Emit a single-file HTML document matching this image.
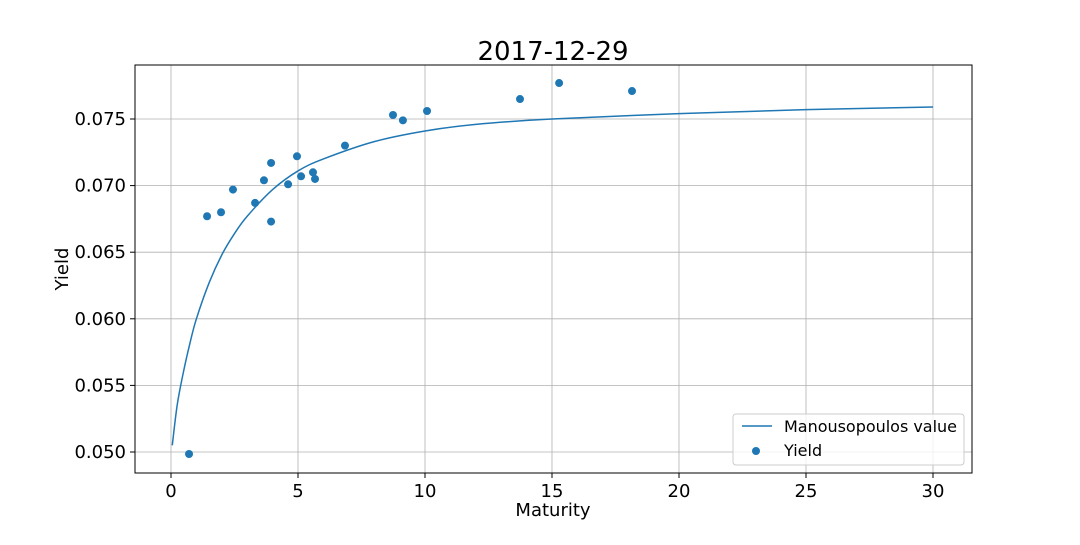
<!DOCTYPE html>
<html><head><meta charset="utf-8"><style>
body{margin:0;background:#fff;}
svg text{font-family:"DejaVu Sans","Liberation Sans",sans-serif;}
</style></head><body>
<svg id="chart" width="1080" height="540" xmlns="http://www.w3.org/2000/svg">
<rect width="1080" height="540" fill="#fff"/>
<text x="553" y="60" font-size="26" text-anchor="middle">2017-12-29</text>
<g id="grid"></g>
<g id="curve"></g>
<g id="pts"></g>
<rect x="135" y="65" width="837" height="408" fill="none" stroke="#000" stroke-width="1"/>
<g id="ticks"></g>
<text x="553" y="516" font-size="18" text-anchor="middle">Maturity</text>
<text x="68" y="269" font-size="18" text-anchor="middle" transform="rotate(-90 68 269)">Yield</text>
<g>
<rect x="733" y="414" width="231" height="51" rx="3" fill="#fff" fill-opacity="0.8" stroke="#ccc"/>
<line x1="742" y1="426" x2="772" y2="426" stroke="#1f77b4" stroke-width="1.5"/>
<text x="784" y="432" font-size="16" textLength="173">Manousopoulos value</text>
<circle cx="756" cy="451" r="4" fill="#1f77b4"/>
<text x="784" y="456" font-size="16">Yield</text>
</g>
</svg>
<script>
const xTicks=[0,5,10,15,20,25,30];
const yTicks=[0.050,0.055,0.060,0.065,0.070,0.075];
const curveT=[0.05,0.25,0.5,0.75,1,1.5,2,2.5,3,4,5,6,8,10,12,15,20,25,30];
const curveY=[0.0505,0.0536,0.0561,0.0582,0.0600,0.0627,0.0648,0.0664,0.0677,0.0697,0.0711,0.0720,0.0733,0.0741,0.0746,0.0750,0.0754,0.0757,0.0759];
const ptT=[0.71,1.42,1.97,2.44,3.31,3.66,3.94,3.94,4.61,4.96,5.12,5.59,5.67,6.85,8.74,9.13,10.08,13.74,15.28,18.15];
const ptY=[0.04985,0.0677,0.0680,0.0697,0.0687,0.0704,0.0717,0.0673,0.0701,0.0722,0.0707,0.0710,0.0705,0.0730,0.0753,0.0749,0.0756,0.0765,0.0777,0.0771];
const NS='http://www.w3.org/2000/svg';
const X=v=>171+v*25.4;
const Y=v=>452-(v-0.050)*13320;
function mk(t,a,p){const e=document.createElementNS(NS,t);for(const k in a)e.setAttribute(k,a[k]);document.getElementById(p).appendChild(e);return e;}
xTicks.forEach(t=>{
 const g=mk('line',{x1:X(t),x2:X(t),y1:65,y2:473,stroke:'#b0b0b0','stroke-width':0.8},'grid');
 
 
 const k=mk('line',{x1:X(t),x2:X(t),y1:473,y2:478,stroke:'#000'},'ticks');
 
 
 const l=mk('text',{x:X(t),y:497,'font-size':18,'text-anchor':'middle'},'ticks');l.textContent=t;
 
 
});
yTicks.forEach(t=>{
 const g=mk('line',{x1:135,x2:972,y1:Y(t),y2:Y(t),stroke:'#b0b0b0','stroke-width':0.8},'grid');
 
 
 const k=mk('line',{x1:130,x2:135,y1:Y(t),y2:Y(t),stroke:'#000'},'ticks');
 
 
 const l=mk('text',{x:126,y:Y(t)+6,'font-size':18,'text-anchor':'end'},'ticks');l.textContent=t.toFixed(3);
 
 
});
let d='';
for(let i=0;i<curveT.length;i++){
 if(i===0){d='M'+X(curveT[0])+','+Y(curveY[0]);continue;}
 const p0=i>1?[X(curveT[i-2]),Y(curveY[i-2])]:[X(curveT[i-1]),Y(curveY[i-1])];
 const p1=[X(curveT[i-1]),Y(curveY[i-1])],p2=[X(curveT[i]),Y(curveY[i])];
 const p3=i<curveT.length-1?[X(curveT[i+1]),Y(curveY[i+1])]:p2;
 const c1=[p1[0]+(p2[0]-p0[0])/6,p1[1]+(p2[1]-p0[1])/6];
 const c2=[p2[0]-(p3[0]-p1[0])/6,p2[1]-(p3[1]-p1[1])/6];
 d+=' C'+c1+' '+c2+' '+p2;
}
const c=mk('path',{d:d,fill:'none',stroke:'#1f77b4','stroke-width':1.5},'curve');


ptT.forEach((t,i)=>{
 const p=mk('circle',{cx:X(t),cy:Y(ptY[i]),r:4,fill:'#1f77b4'},'pts');
 
 
});
</script>
</body></html>
